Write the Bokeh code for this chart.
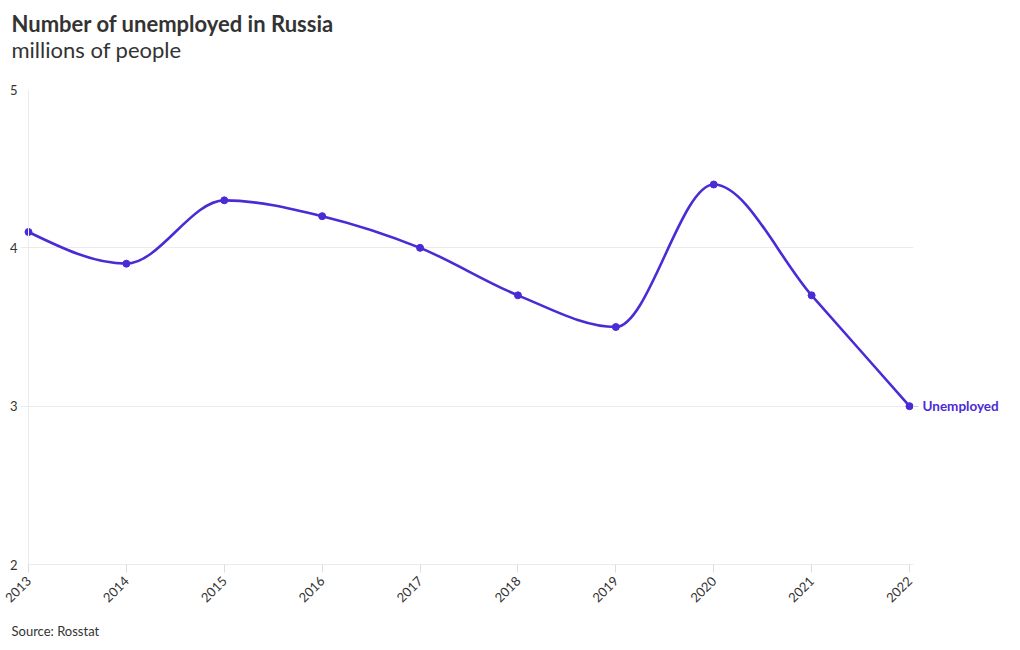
import math
from bokeh.plotting import figure
from bokeh.models import (Range1d, FixedTicker, ColumnDataSource, Title,
                          LinearAxis, Span)
from bokeh.embed import file_html
from bokeh.resources import INLINE

years = [2013, 2014, 2015, 2016, 2017, 2018, 2019, 2020, 2021, 2022]
unemployed = [4.1, 3.9, 4.3, 4.2, 4.0, 3.7, 3.5, 4.4, 3.7, 3.0]
y_ticks = [2, 3, 4, 5]
series_name = "Unemployed"
title_text = "Number of unemployed in Russia"
subtitle_text = "millions of people"
source_text = "Source: Rosstat"

LINE = "#4b2bd6"
GRID = "#ebebeb"
TEXT = "#333333"
FONT = "Lato"


def _sign(v):
    return -1 if v < 0 else 1


def monotone_tangents(xs, ys):
    n = len(xs)
    t = [0.0] * n
    for i in range(1, n - 1):
        h0 = xs[i] - xs[i - 1]
        h1 = xs[i + 1] - xs[i]
        s0 = (ys[i] - ys[i - 1]) / h0
        s1 = (ys[i + 1] - ys[i]) / h1
        pp = (s0 * h1 + s1 * h0) / (h0 + h1)
        t[i] = (_sign(s0) + _sign(s1)) * min(abs(s0), abs(s1), 0.5 * abs(pp))
    s_first = (ys[1] - ys[0]) / (xs[1] - xs[0])
    t[0] = (3 * s_first - t[1]) / 2
    s_last = (ys[-1] - ys[-2]) / (xs[-1] - xs[-2])
    t[-1] = (3 * s_last - t[-2]) / 2
    return t


tan = monotone_tangents(years, unemployed)
seg = dict(x0=[], y0=[], x1=[], y1=[], cx0=[], cy0=[], cx1=[], cy1=[])
for i in range(len(years) - 1):
    h = years[i + 1] - years[i]
    seg["x0"].append(years[i])
    seg["y0"].append(unemployed[i])
    seg["x1"].append(years[i + 1])
    seg["y1"].append(unemployed[i + 1])
    seg["cx0"].append(years[i] + h / 3)
    seg["cy0"].append(unemployed[i] + h * tan[i] / 3)
    seg["cx1"].append(years[i + 1] - h / 3)
    seg["cy1"].append(unemployed[i + 1] - h * tan[i + 1] / 3)

# frame: x 20..913, y 89..564 ; 2013 sits at x=28, 2022 at x=909
px_per_year = (909 - 28) / (years[-1] - years[0])
x_start = years[0] - 8 / px_per_year
x_end = years[-1] + 4 / px_per_year

p = figure(width=1020, height=650, output_backend="svg", toolbar_location=None,
           x_range=Range1d(x_start, x_end), y_range=Range1d(2, 5),
           min_border_left=20, min_border_right=107, min_border_top=89,
           min_border_bottom=86)
p.outline_line_color = None
p.background_fill_color = "white"
p.border_fill_color = "white"

p.xgrid.grid_line_color = None
p.ygrid.grid_line_color = GRID
p.ygrid.ticker = FixedTicker(ticks=y_ticks)
p.add_layout(Span(location=years[0], dimension="height", line_color=GRID,
                  line_width=1))

p.yaxis.ticker = FixedTicker(ticks=y_ticks)
p.yaxis.axis_line_color = None
p.yaxis.major_tick_line_color = None
p.yaxis.major_tick_in = 0
p.yaxis.major_tick_out = 0
p.yaxis.minor_tick_line_color = None
p.yaxis.minor_tick_out = 0
p.yaxis.major_label_standoff = 3
p.yaxis.major_label_text_font = FONT
p.yaxis.major_label_text_font_size = "13px"
p.yaxis.major_label_text_color = TEXT

p.xaxis.ticker = FixedTicker(ticks=years)
p.xaxis.bounds = (years[0], x_end)
p.xaxis.axis_line_color = GRID
p.xaxis.major_tick_line_color = "#dddddd"
p.xaxis.major_tick_in = 0
p.xaxis.major_tick_out = 8
p.xaxis.minor_tick_line_color = None
p.xaxis.major_label_orientation = math.pi / 4
p.xaxis.major_label_standoff = 6
p.xaxis.major_label_text_font = FONT
p.xaxis.major_label_text_font_size = "13px"
p.xaxis.major_label_text_color = TEXT

# series label on a right-hand axis at the last value
last_axis = LinearAxis(ticker=FixedTicker(ticks=[unemployed[-1]]),
                       major_label_overrides={unemployed[-1]: series_name})
last_axis.axis_line_color = None
last_axis.major_tick_line_color = "#cccccc"
last_axis.major_tick_in = 0
last_axis.major_tick_out = 5
last_axis.minor_tick_line_color = None
last_axis.major_label_standoff = 4
last_axis.major_label_text_font = FONT
last_axis.major_label_text_font_size = "13.5px"
last_axis.major_label_text_font_style = "bold"
last_axis.major_label_text_color = LINE
p.add_layout(last_axis, "right")

p.bezier(x0="x0", y0="y0", x1="x1", y1="y1", cx0="cx0", cy0="cy0",
         cx1="cx1", cy1="cy1", source=ColumnDataSource(seg),
         line_color=LINE, line_width=2.6)
p.scatter(years, unemployed, size=7, color=LINE)

# header block, stacked outward from the frame: spacer, subtitle, title
p.add_layout(Title(text=" ", align="left", standoff=14,
                   text_font=FONT, text_font_size="10px"), "above")
p.add_layout(Title(text=subtitle_text, align="left", offset=-9, standoff=-3,
                   text_font=FONT, text_font_size="22px",
                   text_font_style="normal", text_color=TEXT), "above")
p.add_layout(Title(text=title_text, align="left", offset=-9, standoff=-3,
                   text_font=FONT, text_font_size="22px",
                   text_font_style="bold", text_color=TEXT), "above")
p.add_layout(Title(text=source_text, align="left", offset=-9, standoff=23,
                   text_font=FONT, text_font_size="13px",
                   text_font_style="normal", text_color=TEXT), "below")

open("out.html", "w").write(file_html(p, INLINE))
